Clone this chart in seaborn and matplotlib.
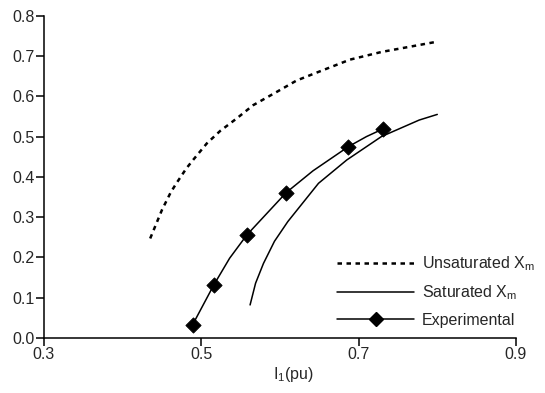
import numpy as np
import matplotlib
matplotlib.use("Agg")
import matplotlib.pyplot as plt
from matplotlib.lines import Line2D
import seaborn as sns

# valores
unsat_x = [0.435, 0.450, 0.461, 0.468, 0.481, 0.490, 0.507, 0.524, 0.545, 0.566, 0.596, 0.621, 0.643, 0.689, 0.729, 0.801]
unsat_y = [0.247, 0.318, 0.361, 0.383, 0.421, 0.443, 0.483, 0.514, 0.545, 0.578, 0.611, 0.639, 0.656, 0.691, 0.710, 0.736]

sat_x = [0.562, 0.569, 0.579, 0.593, 0.610, 0.649, 0.685, 0.729, 0.777, 0.800]
sat_y = [0.082, 0.136, 0.185, 0.240, 0.289, 0.384, 0.442, 0.500, 0.541, 0.555]

# pontos experimentais (marcadores)
exp_x = [0.489, 0.516, 0.558, 0.608, 0.687, 0.731]
exp_y = [0.033, 0.132, 0.256, 0.361, 0.475, 0.519]
# curva que passa pelos pontos experimentais
exp_line_x = [0.489, 0.516, 0.536, 0.558, 0.608, 0.642, 0.687, 0.710, 0.731]
exp_line_y = [0.033, 0.132, 0.198, 0.256, 0.361, 0.415, 0.475, 0.500, 0.519]

x_ticks = [0.3, 0.5, 0.7, 0.9]
y_ticks = [0.0, 0.1, 0.2, 0.3, 0.4, 0.5, 0.6, 0.7, 0.8]

sns.set_style("ticks")
plt.rcParams['font.family'] = ['Liberation Sans', 'DejaVu Sans']
plt.rcParams['mathtext.default'] = 'regular'
plt.rcParams['font.size'] = 11.5

fig = plt.figure(figsize=(5.45, 3.93), dpi=100)
ax = fig.add_axes([0.0807, 0.140, 0.866, 0.820])

lw = 1.1
dot_style = (0, (1.8, 1.8))
sns.lineplot(x=unsat_x, y=unsat_y, ax=ax, color='black', lw=1.8, sort=False, estimator=None,
             linestyle=dot_style)
sns.lineplot(x=sat_x, y=sat_y, ax=ax, color='black', lw=lw, sort=False, estimator=None)
sns.lineplot(x=exp_line_x, y=exp_line_y, ax=ax, color='black', lw=lw, sort=False, estimator=None)
sns.scatterplot(x=exp_x, y=exp_y, ax=ax, color='black', marker='D', s=60, edgecolor='black', zorder=3)

# legenda
handles = [
    Line2D([], [], color='black', lw=1.8, linestyle=dot_style),
    Line2D([], [], color='black', lw=lw),
    Line2D([], [], color='black', lw=lw, marker='D', markersize=7.5),
]
labels = ['Unsaturated X$_m$', 'Saturated X$_m$', 'Experimental']
ax.legend(handles, labels, loc='center left', bbox_to_anchor=(0.619, 0.2595),
          bbox_transform=fig.transFigure, frameon=False, borderpad=0,
          handlelength=4.8, handletextpad=0.5, labelspacing=0.65, fontsize=11.5,
          borderaxespad=0)

ax.set_xlim(0.3, 0.9)
ax.set_ylim(0.0, 0.8)
ax.set_xticks(x_ticks)
ax.set_yticks(y_ticks)
ax.set_xticklabels([f"{v:.1f}" for v in x_ticks])
ax.set_yticklabels([f"{v:.1f}" for v in y_ticks])
ax.tick_params(axis='both', direction='out', length=5.5, width=1.1, pad=1, labelsize=11.5, color='black')
for s in ['left', 'bottom']:
    ax.spines[s].set_linewidth(1.1)
    ax.spines[s].set_color('black')
sns.despine(ax=ax)

ax.set_xlabel('I$_1$(pu)', fontsize=11.5)
ax.xaxis.set_label_coords(0.528, -0.085)

fig.savefig('out.png', dpi=100)
